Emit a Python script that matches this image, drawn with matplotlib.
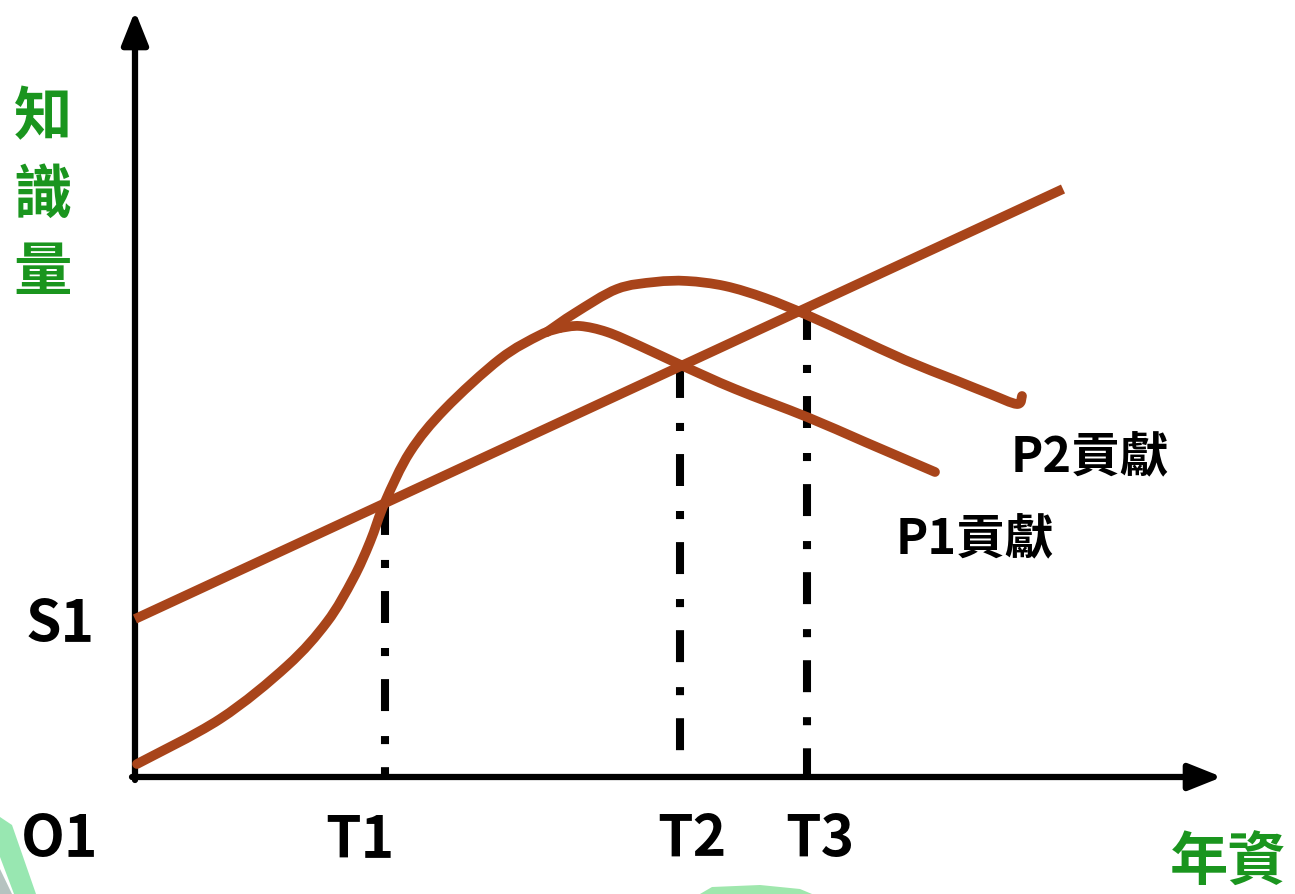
import numpy as np
import matplotlib
matplotlib.use("Agg")
import matplotlib.pyplot as plt
from matplotlib.patches import Polygon, PathPatch
from matplotlib.path import Path

plt.rcParams['lines.scale_dashes'] = False

# ---------------- data (x: years of service, y: knowledge) ----------------
# straight "knowledge" line starting at S1
line_x = [0.0, 9.28]
line_y = [1.58, 5.88]

# S-shaped growth curve up to the branch point
growth_x = [0.02, 0.85, 1.52, 1.92, 2.18, 2.35, 2.50, 2.75, 3.10, 3.65, 4.05, 4.25]
growth_y = [0.13, 0.58, 1.11, 1.55, 1.98, 2.35, 2.75, 3.25, 3.68, 4.18, 4.42, 4.49]

# P1 contribution curve
p1_x = [4.25, 4.45, 4.72, 5.05, 5.48, 6.00, 6.72, 7.30, 8.00]
p1_y = [4.49, 4.51, 4.45, 4.31, 4.11, 3.88, 3.60, 3.35, 3.05]

# P2 contribution curve
p2_x = [4.12, 4.40, 4.82, 5.20, 5.52, 5.90, 6.30, 6.72, 7.20, 7.70, 8.20,
        8.55, 8.82, 8.87]
p2_y = [4.45, 4.64, 4.88, 4.95, 4.96, 4.91, 4.79, 4.62, 4.40, 4.17, 3.97,
        3.83, 3.73, 3.81]

# time markers
t_labels = ["T1", "T2", "T3"]
t_values = [2.50, 5.45, 6.72]

# ---------------- figure ----------------
W, H = 1295, 895
fig = plt.figure(figsize=(W / 100, H / 100), dpi=100)
ax = fig.add_axes([0, 0, 1, 1])
# 1 data unit = 100 px ; origin at pixel (135, 778)
ax.set_xlim(-1.35, (W - 135) / 100)
ax.set_ylim((778 - H) / 100, 7.78)
ax.axis('off')

brown = '#A8441A'
green = '#1A951E'
lat = ['Noto Sans CJK TC', 'DejaVu Sans']
cjk = ['Noto Sans CJK TC', 'DejaVu Sans']


def smooth_path(xs, ys):
    """Catmull-Rom through the given points, drawn as cubic Bezier segments."""
    p = np.column_stack([xs, ys]).astype(float)
    verts = [p[0]]
    codes = [Path.MOVETO]
    n = len(p)
    for i in range(n - 1):
        p0 = p[i - 1] if i > 0 else p[i]
        p1, p2 = p[i], p[i + 1]
        p3 = p[i + 2] if i + 2 < n else p[i + 1]
        c1 = p1 + (p2 - p0) / 6.0
        c2 = p2 - (p3 - p1) / 6.0
        verts += [c1, c2, p2]
        codes += [Path.CURVE4] * 3
    return Path(verts, codes)


def fig_poly(pts, color):
    fig.patches.append(Polygon([[x / W, 1 - y / H] for x, y in pts], closed=True,
                               transform=fig.transFigure, facecolor=color,
                               edgecolor='none', alpha=0.85))


# decorative slide background bits
fig_poly([(0, 818), (12, 826), (36, 895), (14, 895), (0, 858)], '#86E3A4')
fig_poly([(0, 870), (12, 895), (0, 895)], '#A9B9B5')
fig_poly([(700, 895), (712, 888), (760, 886), (800, 890), (812, 895)], '#8EE39F')

# axes with arrows
arrow = dict(arrowstyle='-|>,head_length=1.0,head_width=0.40', mutation_scale=20,
             lw=4.5, color='black', shrinkA=0, shrinkB=0)
ax.annotate('', xy=(0, 7.66), xytext=(0, -0.03), arrowprops=arrow)
ax.annotate('', xy=(10.87, 0), xytext=(-0.03, 0), arrowprops=arrow)

# vertical dash-dot markers
line_at = np.interp(t_values, line_x, line_y)
for tx, ty in zip(t_values, line_at):
    l, = ax.plot([tx, tx], [ty, 0], color='black', lw=5.8, solid_capstyle='butt',
                 dash_capstyle='butt', zorder=2)
    l.set_dashes((23, 18, 5.8, 16.6))

# curves
ax.plot(line_x, line_y, color=brown, lw=7, solid_capstyle='butt', zorder=3)
for xs, ys in [(growth_x, growth_y), (p1_x, p1_y), (p2_x, p2_y)]:
    ax.add_patch(PathPatch(smooth_path(xs, ys), facecolor='none', edgecolor=brown,
                           lw=7, joinstyle='round', capstyle='round', zorder=3))

# labels
tsize = 41
ax.text(-0.75, 1.53, "S1", family=lat, weight='bold', fontsize=tsize,
        ha='center', va='center')
ax.text(-0.75, -0.62, "O1", family=lat, weight='bold', fontsize=tsize,
        ha='center', va='center')
for lab, tx, off in zip(t_labels, t_values, [-0.25, 0.12, 0.13]):
    ax.text(tx + off, -0.62, lab, family=lat, weight='bold', fontsize=tsize,
            ha='center', va='center')

ax.text(9.55, 3.20, "P2貢獻", family=cjk, weight='bold', fontsize=35,
        ha='center', va='center')
ax.text(8.40, 2.38, "P1貢獻", family=cjk, weight='bold', fontsize=35,
        ha='center', va='center')

for ch, yy in zip("知識量", [6.60, 5.82, 5.05]):
    ax.text(-0.92, yy, ch, family=cjk, weight='bold', fontsize=42, color=green,
            ha='center', va='center')
ax.text(10.93, -0.86, "年資", family=cjk, weight='bold', fontsize=42, color=green,
        ha='center', va='center')

fig.savefig("out.png", dpi=100)
